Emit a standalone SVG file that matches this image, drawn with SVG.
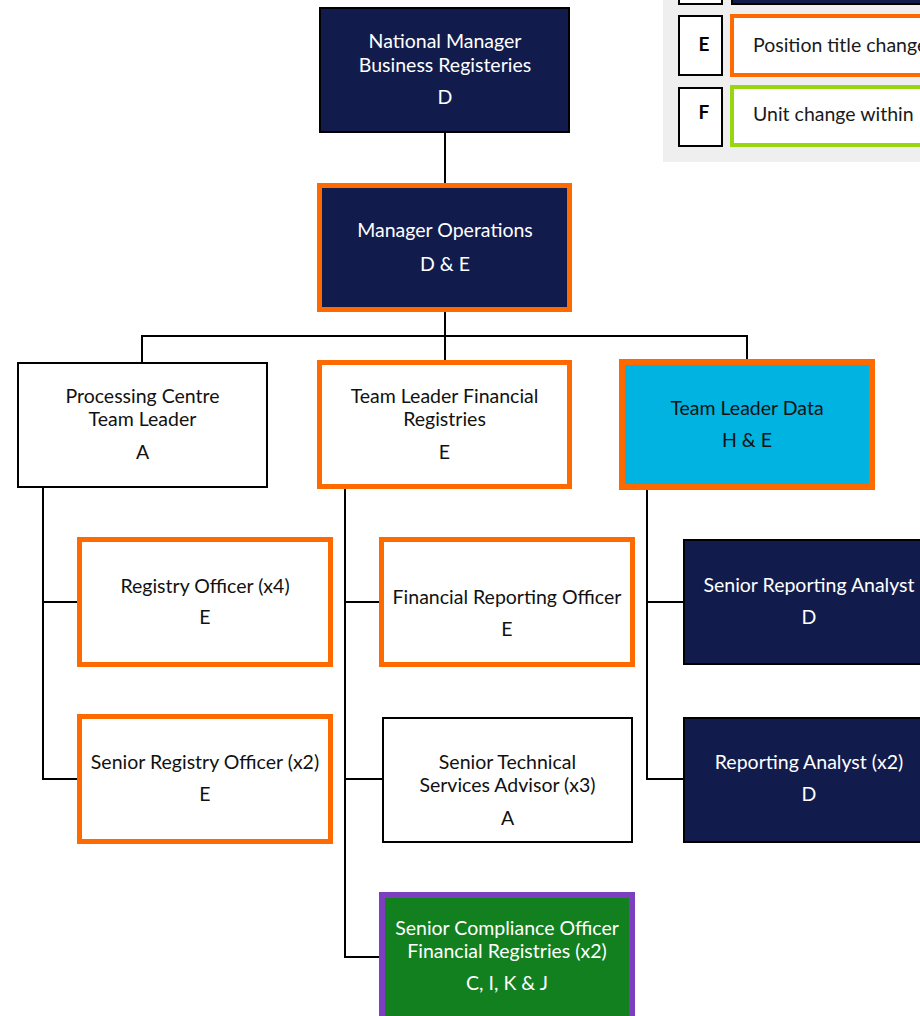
<svg xmlns="http://www.w3.org/2000/svg" width="920" height="1016" viewBox="0 0 920 1016">
  <style>
    .t { font-family: Lato, "Liberation Sans", sans-serif; font-size: 19.5px; text-anchor: middle; }
    .lt { font-family: Lato, "Liberation Sans", sans-serif; font-size: 19.5px; fill: #1a1a1a; }
    .lk { font-family: Lato, "Liberation Sans", sans-serif; font-size: 19px; font-weight: bold; text-anchor: middle; fill: #000; }
    .w { fill: #ffffff; }
    .k { fill: #111111; }
    .navy { fill: #121c4c; stroke: #000; stroke-width: 2; }
    .plain { fill: #ffffff; stroke: #000; stroke-width: 2; }
    .orangeW { fill: #ffffff; stroke: #ff6a00; stroke-width: 5; }
    .orangeN { fill: #121c4c; stroke: #ff6a00; stroke-width: 5; }
    .cyan { fill: #00b3e0; stroke: #ff6a00; stroke-width: 6; }
    .green { fill: #138020; stroke: #7b3fbf; stroke-width: 6; }
    .conn { fill: none; stroke: #000; stroke-width: 2; }
  </style>

  <!-- legend panel -->
  <g id="legend">
    <rect x="663" y="-10" width="270" height="172" fill="#efefef"/>
    <rect x="679" y="-60" width="43" height="64" fill="#fff" stroke="#000" stroke-width="2"/>
    <rect x="732" y="-60" width="200" height="64" fill="#121c4c" stroke="#000" stroke-width="2"/>
    <rect x="679" y="16" width="43" height="59" fill="#fff" stroke="#000" stroke-width="2"/>
    <text class="lk" x="704" y="51">E</text>
    <rect x="732" y="16" width="200" height="59" fill="#fff" stroke="#ff6a00" stroke-width="4"/>
    <text class="lt" x="753" y="52">Position title change</text>
    <rect x="679" y="88" width="43" height="58" fill="#fff" stroke="#000" stroke-width="2"/>
    <text class="lk" x="704" y="119">F</text>
    <rect x="732" y="87" width="200" height="58" fill="#fff" stroke="#99d60f" stroke-width="4"/>
    <text class="lt" x="753" y="121">Unit change within</text>
  </g>

  <!-- reporting lines -->
  <g id="connectors" class="conn">
    <path d="M445 133 V183"/>
    <path d="M445 312 V336 M142 362 V336 H747 V359 M445 336 V360"/>
    <path d="M43 487 V779 H77 M43 602 H77"/>
    <path d="M345 489 V957 H379 M345 602 H379 M345 779 H382"/>
    <path d="M647 490 V779 H683 M647 602 H683"/>
  </g>

  <g id="national-manager">
    <rect class="navy" x="320" y="8" width="249" height="124"/>
    <text class="t w" x="445" y="48">National Manager</text>
    <text class="t w" x="445" y="72">Business Registeries</text>
    <text class="t w" x="445" y="104">D</text>
  </g>

  <g id="manager-operations">
    <rect class="orangeN" x="319.5" y="185.5" width="250" height="124"/>
    <text class="t w" x="445" y="237">Manager Operations</text>
    <text class="t w" x="445" y="271">D &amp; E</text>
  </g>

  <g id="processing-centre-team-leader">
    <rect class="plain" x="18" y="363" width="249" height="124"/>
    <text class="t k" x="142.5" y="403">Processing Centre</text>
    <text class="t k" x="142.5" y="426">Team Leader</text>
    <text class="t k" x="142.5" y="459">A</text>
  </g>

  <g id="team-leader-financial-registries">
    <rect class="orangeW" x="319.5" y="362.5" width="250" height="124"/>
    <text class="t k" x="444.5" y="403">Team Leader Financial</text>
    <text class="t k" x="444.5" y="426">Registries</text>
    <text class="t k" x="444.5" y="459">E</text>
  </g>

  <g id="team-leader-data">
    <rect class="cyan" x="622" y="362" width="250" height="125"/>
    <text class="t k" x="747" y="415">Team Leader Data</text>
    <text class="t k" x="747" y="447">H &amp; E</text>
  </g>

  <g id="registry-officer">
    <rect class="orangeW" x="79.5" y="539.5" width="251" height="125"/>
    <text class="t k" x="205" y="593">Registry Officer (x4)</text>
    <text class="t k" x="205" y="624">E</text>
  </g>

  <g id="senior-registry-officer">
    <rect class="orangeW" x="79.5" y="716.5" width="251" height="125"/>
    <text class="t k" x="205" y="769">Senior Registry Officer (x2)</text>
    <text class="t k" x="205" y="801">E</text>
  </g>

  <g id="financial-reporting-officer">
    <rect class="orangeW" x="381.5" y="539.5" width="251" height="125"/>
    <text class="t k" x="507" y="604">Financial Reporting Officer</text>
    <text class="t k" x="507" y="636">E</text>
  </g>

  <g id="senior-technical-services-advisor">
    <rect class="plain" x="383" y="718" width="249" height="124"/>
    <text class="t k" x="507.5" y="769">Senior Technical</text>
    <text class="t k" x="507.5" y="792">Services Advisor (x3)</text>
    <text class="t k" x="507.5" y="825">A</text>
  </g>

  <g id="senior-compliance-officer">
    <rect class="green" x="382" y="895" width="250" height="130"/>
    <text class="t w" x="507" y="935">Senior Compliance Officer</text>
    <text class="t w" x="507" y="958">Financial Registries (x2)</text>
    <text class="t w" x="507" y="990">C, I, K &amp; J</text>
  </g>

  <g id="senior-reporting-analyst">
    <rect class="navy" x="684" y="540" width="250" height="124"/>
    <text class="t w" x="809" y="592">Senior Reporting Analyst</text>
    <text class="t w" x="809" y="624">D</text>
  </g>

  <g id="reporting-analyst">
    <rect class="navy" x="684" y="718" width="250" height="124"/>
    <text class="t w" x="809" y="769">Reporting Analyst (x2)</text>
    <text class="t w" x="809" y="801">D</text>
  </g>
</svg>
